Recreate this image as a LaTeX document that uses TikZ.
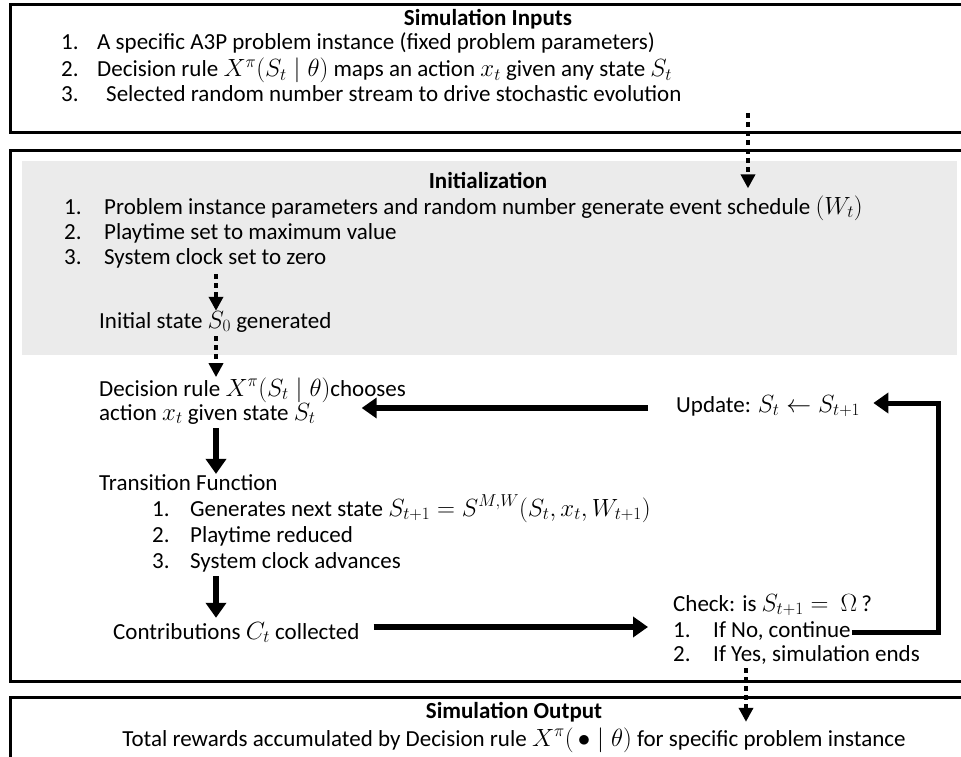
\documentclass[tikz,border=0pt]{standalone}
\usepackage{fontspec}
\setmainfont{Carlito}
\usetikzlibrary{arrows.meta,calc}
\definecolor{panelgray}{HTML}{EBEBEB}
\begin{document}
\begin{tikzpicture}[x=1pt,y=-1pt,
  txt/.style={anchor=base west, inner sep=0pt, font=\fontsize{23}{27}\selectfont},
  ttl/.style={anchor=base, inner sep=0pt, font=\fontsize{23}{27}\selectfont\bfseries},
  frame/.style={line width=3pt, draw=black},
  dotarrow/.style={line width=4pt, dash pattern=on 5pt off 4pt, -{Triangle[width=14pt,length=14pt]}},
  bigarrow/.style={line width=6pt, -{Triangle[width=20pt,length=15pt]}},
  looparrow/.style={line width=5pt, -{Triangle[width=20pt,length=15pt]}},
]
\useasboundingbox (0,0) rectangle (961,757);
\begin{scope}
\clip (0,0) rectangle (961,757);
% frames of the three stages
\draw[frame] (10,5) rectangle (975,133);
\draw[frame] (10,151) rectangle (975,681);
\fill[panelgray] (22,161) rectangle (957,355);
\draw[frame] (10,697) rectangle (975,790);
\end{scope}

% simulation inputs
\node[ttl] (inT) at (488,26) {Simulation Inputs};
\node[txt] (in1n) at (61,50) {1.};
\node[txt] (in1) at (97,50) {A specific A3P problem instance (fixed problem parameters)};
\node[txt] (in2n) at (61,77) {2.};
\node[txt] (in2) at (97,77) {Decision rule $X^{\pi}(S_t \mid \theta)$ maps an action $x_t$ given any state $S_t$};
\node[txt] (in3n) at (61,102) {3.};
\node[txt] (in3) at (106,102) {Selected random number stream to drive stochastic evolution};

% initialization
\node[ttl] (initT) at (488,188) {Initialization};
\node[txt] (ini1n) at (64,214) {1.};
\node[txt] (ini1) at (104,214) {Problem instance parameters and random number generate event schedule $(W_t)$};
\node[txt] (ini2n) at (64,239) {2.};
\node[txt] (ini2) at (104,239) {Playtime set to maximum value};
\node[txt] (ini3n) at (64,264) {3.};
\node[txt] (ini3) at (104,264) {System clock set to zero};
\node[txt] (s0) at (99,328) {Initial state $S_0$ generated};

% main loop
\node[txt] (dec1) at (99,396) {Decision rule $X^{\pi}(S_t \mid \theta)$chooses};
\node[txt] (dec2) at (99,420) {action $x_t$ given state $S_t$};
\node[txt] (upd) at (676,412) {Update: $S_t \leftarrow S_{t+1}$};
\node[txt] (tf) at (99,490) {Transition Function};
\node[txt] (tf1n) at (152,516) {1.};
\node[txt] (tf1) at (190,516) {Generates next state $S_{t+1} = S^{M,W}(S_t, x_t, W_{t+1})$};
\node[txt] (tf2n) at (152,542) {2.};
\node[txt] (tf2) at (190,542) {Playtime reduced};
\node[txt] (tf3n) at (152,568) {3.};
\node[txt] (tf3) at (190,568) {System clock advances};
\node[txt] (ct) at (113,639) {Contributions $C_t$ collected};
\node[txt] (chk) at (673,611) {Check: is $S_{t+1} = \ \Omega\,$?};
\node[txt] (chk1n) at (673,637) {1.};
\node[txt] (chk1) at (713,637) {If No, continue};
\node[txt] (chk2n) at (673,661) {2.};
\node[txt] (chk2) at (713,661) {If Yes, simulation ends};

% simulation output
\node[ttl] (outT) at (514,718) {Simulation Output};
\node[txt, anchor=base] (out1) at (514,746) {Total rewards accumulated by Decision rule $X^{\pi}(\,\bullet \mid \theta)$ for specific problem instance};

% connectors
\coordinate (inDrop) at (748,113);
\draw[dotarrow] (inDrop) -- (inDrop |- initT.south);
\draw[dotarrow] (216,274) -- (s0.north -| 216,0);
\draw[dotarrow] (216,336) -- (dec1.north -| 216,0);
\draw[bigarrow] (216,428) -- (tf.north -| 216,0);
\draw[bigarrow] (216,576) -- ($(ct.north -| 216,0)+(0,-4)$);
\draw[bigarrow] ($(ct.east |- 0,627)+(14,0)$) -- ($(chk1n.west |- 0,627)+(-25,0)$);
\draw[bigarrow] ($(upd.west |- 0,408)+(-28,0)$) -- ($(dec2.east |- 0,408)+(46,0)$);
\draw[looparrow] ($(chk1.east |- 0,632)+(1,0)$) -- (938,632) -- (938,403) -- ($(upd.east |- 0,403)+(13,0)$);
\draw[dotarrow] (746,668) -- (outT.south -| 746,0);
\end{tikzpicture}
\end{document}
